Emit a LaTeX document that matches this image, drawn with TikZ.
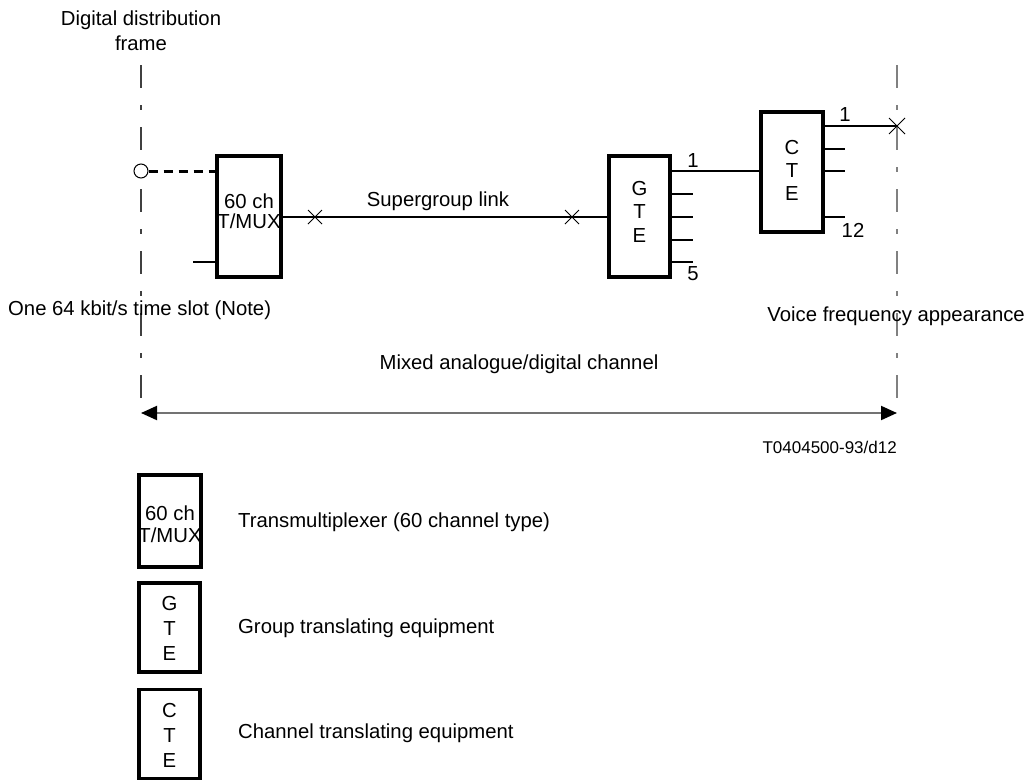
\documentclass[tikz,border=0pt]{standalone}
\usepackage{fontspec}
\setmainfont{Liberation Sans}
\usetikzlibrary{arrows.meta,calc}
\begin{document}
\begin{tikzpicture}[x=1pt,y=-1pt,
  txt/.style={font=\fontsize{20.3}{24}\selectfont, inner sep=0pt},
  small/.style={font=\fontsize{17}{20}\selectfont, inner sep=0pt},
  boxtext/.style={font=\fontsize{20.3}{20}\selectfont, inner sep=0pt, align=center},
  box/.style={draw, line width=3.8pt, inner sep=0pt},
  wire/.style={line width=1.8pt},
  frameline/.style={line width=1.5pt, dash pattern=on 23pt off 17pt on 5pt off 17pt},
  xmark/.style={line width=1pt}
]
\useasboundingbox (0,0) rectangle (1029,780);

% frame lines
\coordinate (ltop) at (141,65);
\coordinate (lbot) at (141,413);
\coordinate (rtop) at (897,65);
\coordinate (rbot) at (897,413);
\draw[frameline, black!75] (ltop) -- (lbot);
\draw[frameline, black!50, line width=2pt] (rtop) -- (rbot);

% title
\node[txt, align=center, font=\fontsize{20.3}{25}\selectfont] (ddf) at (141,31) {Digital distribution\\frame};

% boxes
\node[box, minimum width=64pt, minimum height=121pt] (tmux) at (249,216.5) {};
\node[boxtext, font=\fontsize{20.3}{20}\selectfont] (tmuxt) at (249,211.7) {60 ch\\T/MUX};
\node[box, minimum width=61pt, minimum height=121pt] (gte) at (639.5,216.5) {};
\node[boxtext, font=\fontsize{20.3}{23.5}\selectfont] (gtet) at (639.5,211.7) {G\\T\\E};
\node[box, minimum width=62pt, minimum height=120pt] (cte) at (792,172) {};
\node[boxtext, font=\fontsize{20.3}{23}\selectfont] (ctet) at (792,170) {C\\T\\E};

% circle and dashed link
\node[draw, fill=white, circle, line width=1pt, minimum size=14pt, inner sep=0pt] (ddfc) at (141,171) {};
\draw[line width=3pt, dash pattern=on 9pt off 6pt] (ddfc.east) -- (ddfc.east -| tmux.west);

% stub into tmux
\coordinate (tstub) at (193,262);
\draw[wire] (tstub) -- (tstub -| tmux.west);

% supergroup link
\coordinate (tmuxout) at (tmux.east |- 0,217);
\coordinate (gtein) at (gte.west |- 0,217);
\draw[wire] (tmuxout) -- (gtein);
\node[txt] (sgl) at (438,201) {Supergroup link};
\coordinate (x1) at (315,217);
\coordinate (x2) at (572,217);
\draw[xmark] ($(x1)+(-7,-7)$) -- ($(x1)+(7,7)$) ($(x1)+(-7,7)$) -- ($(x1)+(7,-7)$);
\draw[xmark] ($(x2)+(-7,-7)$) -- ($(x2)+(7,7)$) ($(x2)+(-7,7)$) -- ($(x2)+(7,-7)$);

% GTE outputs
\coordinate (g1) at (gte.east |- 0,171);
\draw[wire] (g1) -- (g1 -| cte.west);
\foreach \yy in {194,217,240,262} {
  \draw[wire] (gte.east |- 0,\yy) -- (693,\yy);
}
\node[txt] (g1lab) at (693,161) {1};
\node[txt] (g5lab) at (693,274) {5};

% CTE outputs
\coordinate (vfa) at (897,126);
\draw[wire] (cte.east |- vfa) -- (vfa);
\draw[xmark] ($(vfa)+(-8,-8)$) -- ($(vfa)+(8,8)$) ($(vfa)+(-8,8)$) -- ($(vfa)+(8,-8)$);
\foreach \yy in {149,171,217} {
  \draw[wire] (cte.east |- 0,\yy) -- (845,\yy);
}
\node[txt] (c1lab) at (845,115) {1};
\node[txt] (c12lab) at (853,230) {12};

% labels
\node[txt, anchor=west] (slot) at (8,310) {One 64 kbit/s time slot (Note)};
\node[txt, anchor=east] (vf) at (1025,316) {Voice frequency appearance};
\node[txt] (mixed) at (519,364) {Mixed analogue/digital channel};
\draw[line width=2pt, black!55, {Triangle[length=16pt,width=14pt,color=black]}-{Triangle[length=16pt,width=14pt,color=black]}] (lbot) -- (rbot);
\node[small, anchor=east] (code) at (897,447) {T0404500-93/d12};

% legend
\node[box, minimum width=62pt, minimum height=92pt] (ltmux) at (170,521) {};
\node[boxtext, font=\fontsize{20.3}{22}\selectfont] (ltmuxt) at (170,524) {60 ch\\T/MUX};
\node[box, minimum width=61pt, minimum height=89pt] (lgte) at (169.5,627.5) {};
\node[boxtext, font=\fontsize{20.3}{25}\selectfont] (lgtet) at (169.5,628) {G\\T\\E};
\node[box, minimum width=61pt, minimum height=89pt] (lcte) at (169.5,734) {};
\node[boxtext, font=\fontsize{20.3}{25}\selectfont] (lctet) at (169.5,735) {C\\T\\E};
\node[txt, anchor=west] (ltmuxlab) at (238,522) {Transmultiplexer (60 channel type)};
\node[txt, anchor=west] (lgtelab) at (238,628) {Group translating equipment};
\node[txt, anchor=west] (lctelab) at (238,733) {Channel translating equipment};
\end{tikzpicture}
\end{document}
